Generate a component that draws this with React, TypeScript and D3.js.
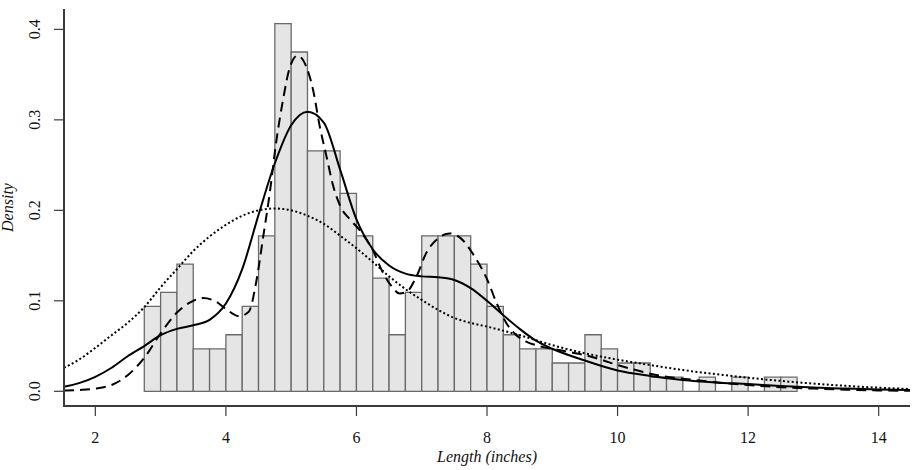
import React from 'react';
import * as d3 from 'd3';

// Histogram (bins of width 0.25 starting at 2.75), counts per bin
const binStart = 2.75;
const binWidth = 0.25;
const binCounts = [6, 7, 9, 3, 3, 4, 6, 11, 26, 24, 17, 17, 14, 11, 8, 4, 7, 11, 11, 11, 9, 6, 4, 3, 3, 2, 2, 4, 3, 2, 2, 1, 1, 0, 1, 0, 1, 0, 1, 1];

const xTicks = [2, 4, 6, 8, 10, 12, 14];
const yTicks = [0, 0.1, 0.2, 0.3, 0.4];
const yTickLabels = ['0.0', '0.1', '0.2', '0.3', '0.4'];

// Wide density (dotted)
const dottedX = [1.52, 1.75, 2.0, 2.25, 2.5, 2.75, 3.0, 3.25, 3.5, 3.75, 4.0, 4.25, 4.5, 4.75, 5.0, 5.25, 5.5, 5.75, 6.0, 6.25, 6.5, 6.75, 7.0, 7.25, 7.5, 7.75, 8.0, 8.5, 9.0, 9.5, 10.0, 10.5, 11.0, 11.5, 12.0, 12.5, 13.0, 13.5, 14.0, 14.48];
const dottedY = [0.026, 0.035, 0.048, 0.062, 0.076, 0.093, 0.115, 0.135, 0.155, 0.171, 0.184, 0.194, 0.2, 0.202, 0.2, 0.194, 0.185, 0.172, 0.158, 0.143, 0.127, 0.113, 0.101, 0.09, 0.081, 0.0755, 0.0715, 0.062, 0.051, 0.042, 0.035, 0.029, 0.0235, 0.019, 0.015, 0.0115, 0.0085, 0.006, 0.004, 0.0025];

// Medium density (solid)
const solidX = [1.52, 1.75, 2.0, 2.25, 2.5, 2.75, 3.0, 3.25, 3.5, 3.75, 4.0, 4.25, 4.5, 4.75, 5.0, 5.25, 5.5, 5.75, 6.0, 6.25, 6.5, 6.75, 7.0, 7.25, 7.5, 7.75, 8.0, 8.25, 8.5, 8.75, 9.0, 9.5, 10.0, 10.5, 11.0, 11.5, 12.0, 12.5, 13.0, 13.5, 14.0, 14.48];
const solidY = [0.005, 0.009, 0.016, 0.026, 0.039, 0.05, 0.062, 0.069, 0.073, 0.079, 0.097, 0.135, 0.195, 0.252, 0.294, 0.309, 0.297, 0.245, 0.19, 0.157, 0.139, 0.13, 0.127, 0.126, 0.123, 0.114, 0.1, 0.084, 0.069, 0.056, 0.047, 0.034, 0.023, 0.017, 0.0125, 0.0098, 0.008, 0.0058, 0.0042, 0.003, 0.002, 0.0014];

// Narrow density (dashed)
const dashedX = [1.52, 1.75, 2.0, 2.25, 2.5, 2.75, 3.0, 3.25, 3.5, 3.65, 3.85, 4.0, 4.2, 4.35, 4.47, 4.57, 4.67, 4.77, 4.875, 4.98, 5.1, 5.23, 5.33, 5.44, 5.54, 5.64, 5.75, 5.9, 6.05, 6.25, 6.4, 6.55, 6.66, 6.77, 6.92, 7.07, 7.25, 7.43, 7.6, 7.8, 8.0, 8.15, 8.3, 8.45, 8.6, 8.8, 9.0, 9.25, 9.5, 9.75, 10.0, 10.25, 10.5, 10.75, 11.0, 11.5, 12.0, 12.5, 13.0, 13.5, 14.0, 14.48];
const dashedY = [0.0008, 0.0015, 0.003, 0.007, 0.018, 0.037, 0.064, 0.087, 0.1, 0.103, 0.099, 0.091, 0.083, 0.088, 0.123, 0.17, 0.218, 0.275, 0.322, 0.358, 0.371, 0.359, 0.335, 0.292, 0.26, 0.228, 0.205, 0.19, 0.178, 0.156, 0.132, 0.115, 0.108, 0.11, 0.127, 0.153, 0.169, 0.1745, 0.169, 0.15, 0.124, 0.097, 0.075, 0.062, 0.055, 0.05, 0.047, 0.0435, 0.04, 0.035, 0.029, 0.024, 0.0195, 0.016, 0.014, 0.01, 0.007, 0.0045, 0.003, 0.0018, 0.001, 0.0006];

const W = 920;
const H = 470;
const plotLeft = 64;
const plotRight = 910;
const plotTop = 9;
const plotBottom = 406;

export default function App() {
  const total = d3.sum(binCounts);
  const xMin = 1.52;
  const xMax = 14.48;
  const yMaxData = d3.max(binCounts.map((c) => c / (total * binWidth))) as number;
  const yPad = yMaxData * 0.04;

  const x = d3.scaleLinear().domain([xMin, xMax]).range([plotLeft, plotRight]);
  const y = d3.scaleLinear().domain([-yPad, yMaxData + yPad]).range([plotBottom, plotTop]);

  const line = d3
    .line<[number, number]>()
    .x((d) => x(d[0]))
    .y((d) => y(d[1]))
    .curve(d3.curveMonotoneX);

  const toPts = (xs: number[], ys: number[]) => xs.map((v, i) => [v, ys[i]] as [number, number]);

  const font = '"Liberation Serif", "Times New Roman", Times, serif';
  const axisColor = '#3c3c3c';

  return (
    <svg
      width={W}
      height={H}
      style={{ position: 'absolute', left: 0, top: 0, display: 'block', background: '#fff' }}
      fontFamily={font}
    >
      <rect x={0} y={0} width={W} height={H} fill="#fff" />
      {/* histogram */}
      <g>
        {binCounts.map((c, i) => {
          const x0 = x(binStart + i * binWidth);
          const x1 = x(binStart + (i + 1) * binWidth);
          const y0 = y(0);
          const y1 = y(c / (total * binWidth));
          return (
            <path
              key={i}
              d={`M${x0},${y0}V${y1}H${x1}V${y0}Z`}
              fill="#e5e5e5"
              stroke="#6a6a6a"
              strokeWidth={1.3}
            />
          );
        })}
      </g>
      {/* densities */}
      <path d={line(toPts(dottedX, dottedY)) || ''} fill="none" stroke="#000" strokeWidth={2} strokeDasharray="2,2.4" />
      <path d={line(toPts(solidX, solidY)) || ''} fill="none" stroke="#000" strokeWidth={2} />
      <path d={line(toPts(dashedX, dashedY)) || ''} fill="none" stroke="#000" strokeWidth={2} strokeDasharray="10,6" />

      {/* axes (L-shaped box) */}
      <path
        d={`M${plotLeft},${plotTop}V${plotBottom}H${plotRight}`}
        fill="none"
        stroke={axisColor}
        strokeWidth={2}
      />
      {xTicks.map((t) => (
        <g key={t}>
          <line x1={x(t)} x2={x(t)} y1={plotBottom} y2={plotBottom + 10} stroke={axisColor} strokeWidth={1.2} />
          <text x={x(t)} y={443} textAnchor="middle" fontSize={16} fill="#111">
            {t}
          </text>
        </g>
      ))}
      {yTicks.map((t, i) => (
        <g key={t}>
          <line x1={plotLeft - 10} x2={plotLeft} y1={y(t)} y2={y(t)} stroke={axisColor} strokeWidth={1.2} />
          <text
            transform={`translate(40,${y(t)}) rotate(-90)`}
            textAnchor="middle"
            fontSize={16}
            fill="#111"
          >
            {yTickLabels[i]}
          </text>
        </g>
      ))}
      <text
        x={(plotLeft + plotRight) / 2}
        y={462}
        textAnchor="middle"
        fontSize={16}
        fontStyle="italic"
        fill="#111"
      >
        Length (inches)
      </text>
      <text
        transform={`translate(13,${(plotTop + plotBottom) / 2}) rotate(-90)`}
        textAnchor="middle"
        fontSize={16}
        fontStyle="italic"
        fill="#111"
      >
        Density
      </text>
    </svg>
  );
}
